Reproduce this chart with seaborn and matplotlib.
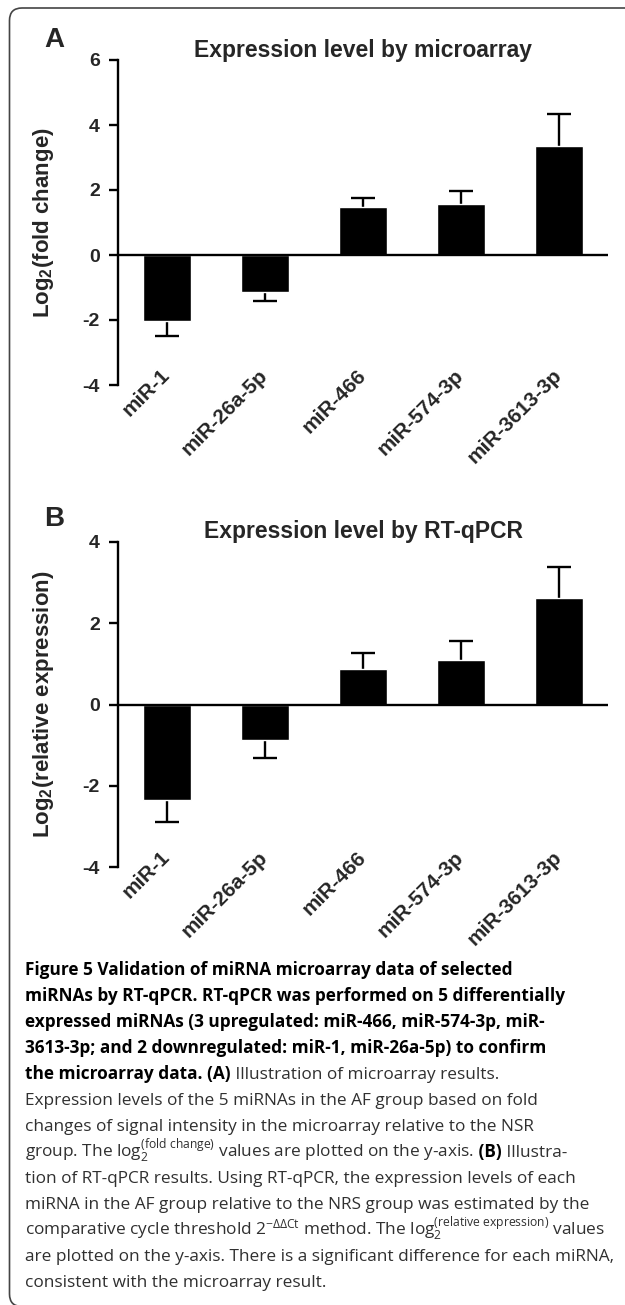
import numpy as np
import pandas as pd
import matplotlib
matplotlib.use("Agg")
import matplotlib.pyplot as plt
import seaborn as sns
from matplotlib.patches import FancyBboxPatch
from matplotlib.transforms import IdentityTransform

# data
mirnas = ['miR-1', 'miR-26a-5p', 'miR-466', 'miR-574-3p', 'miR-3613-3p']
array_vals = [-2.02, -1.13, 1.49, 1.58, 3.36]
array_err = [0.47, 0.30, 0.25, 0.39, 0.98]
qpcr_vals = [-2.36, -0.87, 0.88, 1.10, 2.62]
qpcr_err = [0.52, 0.44, 0.39, 0.47, 0.76]

sns.set_theme(style='white')
plt.rcParams['font.family'] = ['Liberation Sans', 'DejaVu Sans']
plt.rcParams['axes.unicode_minus'] = False
plt.rcParams['mathtext.fontset'] = 'custom'
plt.rcParams['mathtext.rm'] = 'Open Sans'
plt.rcParams['mathtext.it'] = 'Open Sans:italic'
plt.rcParams['mathtext.bf'] = 'Liberation Sans:bold'

W, H = 625, 1305
fig = plt.figure(figsize=(W / 100, H / 100), dpi=100)


def px(x, y):
    # pixel position (from top-left) -> figure fraction
    return x / W, 1 - y / H


def panel(top, bottom, vals, errs, ylim, yticks, title, title_y, ylabel,
          letter, letter_y):
    ax = fig.add_axes([118 / W, 1 - bottom / H, 490 / W, (bottom - top) / H])
    df = pd.DataFrame({'miRNA': mirnas, 'value': vals})
    sns.barplot(data=df, x='miRNA', y='value', color='black', saturation=1,
                width=0.49, errorbar=None, ax=ax, zorder=3)
    # one-sided error bars, pointing away from zero
    pos = np.arange(len(vals))
    ends = [v + e if v > 0 else v - e for v, e in zip(vals, errs)]
    ax.vlines(pos, vals, ends, color='black', lw=1.7, zorder=2)
    ax.hlines(ends, pos - 0.12, pos + 0.12, color='black', lw=1.7, zorder=2)
    ax.axhline(0, color='black', lw=1.7, zorder=4)
    ax.set_xlim(-0.5, len(vals) - 0.5)
    ax.set_ylim(*ylim)
    ax.set_yticks(yticks)
    for s in ['top', 'right', 'bottom']:
        ax.spines[s].set_visible(False)
    ax.spines['left'].set_color('black')
    ax.spines['left'].set_linewidth(1.7)
    ax.spines['left'].set_bounds(*ylim)
    ax.tick_params(axis='y', direction='out', length=6.5, width=1.7, color='black',
                   left=True, labelsize=14, pad=6.5)
    ax.tick_params(axis='x', length=0, labelsize=15, pad=-9)
    for lab in ax.get_yticklabels():
        lab.set_fontweight('bold')
    for lab in ax.get_xticklabels():
        lab.set_fontweight('bold')
        lab.set_rotation(45)
        lab.set_ha('right')
        lab.set_va('center')
        lab.set_rotation_mode('anchor')
    ax.set_xlabel('')
    ax.set_ylabel('')
    ax.patch.set_visible(False)
    fig.text(*px(363, title_y), title, fontsize=16.5, fontweight='bold',
             ha='center', va='baseline')
    fig.text(*px(44, (top + bottom) / 2), ylabel, fontsize=16, fontweight='bold',
             rotation=90, ha='center', va='center')
    fig.text(*px(44, letter_y), letter, fontsize=20, fontweight='bold', va='baseline')
    return ax


panel(60, 385, array_vals, array_err, (-4, 6), [-4, -2, 0, 2, 4, 6],
      'Expression level by microarray', 57,
      r'Log$_{\mathbf{2}}$(fold change)', 'A', 47)
panel(542, 867, qpcr_vals, qpcr_err, (-4, 4), [-4, -2, 0, 2, 4],
      'Expression level by RT-qPCR', 538,
      r'Log$_{\mathbf{2}}$(relative expression)', 'B', 526)

# frame around the figure (right and bottom edges fall outside)
fig.patches.append(FancyBboxPatch((9.5 / W, -1.5 / H), 1.2, 1 - 8 / H + 1.5 / H,
                                  boxstyle='round,pad=0,rounding_size=0.02',
                                  transform=fig.transFigure, fill=False,
                                  edgecolor='#444444', lw=1.2, mutation_aspect=W / H))

caption = [
    [('Figure 5 Validation of miRNA microarray data of selected', 'bold')],
    [('miRNAs by RT-qPCR. RT-qPCR was performed on 5 differentially', 'bold')],
    [('expressed miRNAs (3 upregulated: miR-466, miR-574-3p, miR-', 'bold')],
    [('3613-3p; and 2 downregulated: miR-1, miR-26a-5p) to confirm', 'bold')],
    [('the microarray data. (A)', 'bold'), (' Illustration of microarray results.', 'normal')],
    [('Expression levels of the 5 miRNAs in the AF group based on fold', 'normal')],
    [('changes of signal intensity in the microarray relative to the NSR', 'normal')],
    [(r'group. The log$_{2}^{\mathrm{(fold\ change)}}$ values are plotted on the y-axis.', 'normal'),
     (' (B)', 'bold'), (' Illustra-', 'normal')],
    [('tion of RT-qPCR results. Using RT-qPCR, the expression levels of each', 'normal')],
    [('miRNA in the AF group relative to the NRS group was estimated by the', 'normal')],
    [(r'comparative cycle threshold 2$^{-\Delta\Delta \mathrm{Ct}}$ method. The '
      r'log$_{2}^{\mathrm{(relative\ expression)}}$ values', 'normal')],
    [('are plotted on the y-axis. There is a significant difference for each miRNA,', 'normal')],
    [('consistent with the microarray result.', 'normal')],
]

renderer = fig.canvas.get_renderer()


def draw_line(segs, x, y, size):
    for txt, w in segs:
        t = fig.text(x, y, txt, fontsize=size, fontweight=w, family='Open Sans',
                     color='black' if w == 'bold' else '#303030',
                     transform=IdentityTransform(), va='baseline')
        x = t.get_window_extent(renderer).x1
    return x


# fit the longest caption line to the frame width
widths = []
for segs in caption:
    n = len(fig.texts)
    widths.append(draw_line(segs, 0, -100, 10))
    del fig.texts[n:]
size = 10 * 590 / max(widths)

x0, base0, step = 25, 975, 26
for i, segs in enumerate(caption):
    draw_line(segs, x0, H - (base0 + i * step), size)

fig.savefig('out.png', dpi=100)
